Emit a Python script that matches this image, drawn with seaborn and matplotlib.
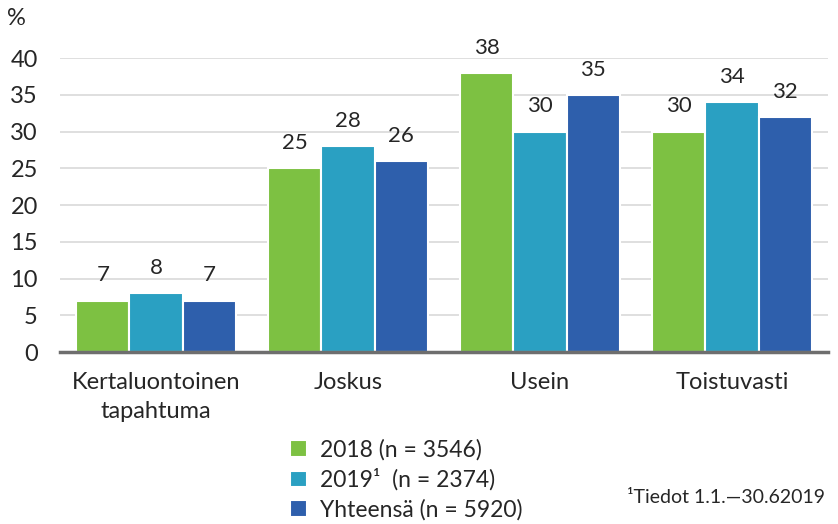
import pandas as pd
import seaborn as sns
import matplotlib.pyplot as plt

# data
categories = ['Kertaluontoinen\ntapahtuma', 'Joskus', 'Usein', 'Toistuvasti']
series = ['2018 (n = 3546)', '2019¹  (n = 2374)', 'Yhteensä (n = 5920)']
v2018 = [7, 25, 38, 30]
v2019 = [8, 28, 30, 34]
vtotal = [7, 26, 35, 32]
colors = ['#7DC142', '#2AA0C2', '#2E5FAC']

df = pd.DataFrame({
    'cat': categories * 3,
    'series': [series[0]] * 4 + [series[1]] * 4 + [series[2]] * 4,
    'value': v2018 + v2019 + vtotal,
})

sns.set_style('white')
plt.rcParams['font.family'] = ['Lato', 'DejaVu Sans']

fig = plt.figure(figsize=(8.38, 5.24), dpi=100)
ax = fig.add_axes([0.0716, 0.328, 0.9164, 0.561])

sns.barplot(data=df, x='cat', y='value', hue='series', order=categories,
            hue_order=series, palette=colors, width=0.83, gap=0,
            edgecolor='white', linewidth=1.5, saturation=1, legend=True, ax=ax)

for cont in ax.containers:
    ax.bar_label(cont, fmt='%d', padding=11, fontsize=16)

ax.set_xlim(-0.5, 3.5)
ax.set_ylim(0, 40)
ax.set_yticks(range(0, 41, 5))
ax.yaxis.grid(True, color='#D9D9D9', linewidth=1.2)
ax.set_axisbelow(True)
ax.set_xlabel('')
ax.set_ylabel('')
ax.tick_params(axis='both', length=0, labelsize=17, pad=16)
ax.tick_params(axis='x', pad=14)
for lbl in ax.get_xticklabels():
    lbl.set_linespacing(1.5)
for s in ['top', 'right', 'left']:
    ax.spines[s].set_visible(False)
ax.spines['bottom'].set_color('#6E6E6E')
ax.spines['bottom'].set_linewidth(2.5)

fig.text(0.008, 0.965, '%', fontsize=17, ha='left', va='center')

handles, labels = ax.get_legend_handles_labels()
ax.legend(handles, labels, loc='upper left', bbox_to_anchor=(0.335, 0.18),
          bbox_transform=fig.transFigure, frameon=False, fontsize=16.5,
          handlelength=0.75, handleheight=0.75, handletextpad=0.55,
          labelspacing=0.36, borderaxespad=0)

fig.text(0.985, 0.05, '¹Tiedot 1.1.—30.62019', fontsize=14, ha='right', va='center')

fig.savefig('out.png', dpi=100)
